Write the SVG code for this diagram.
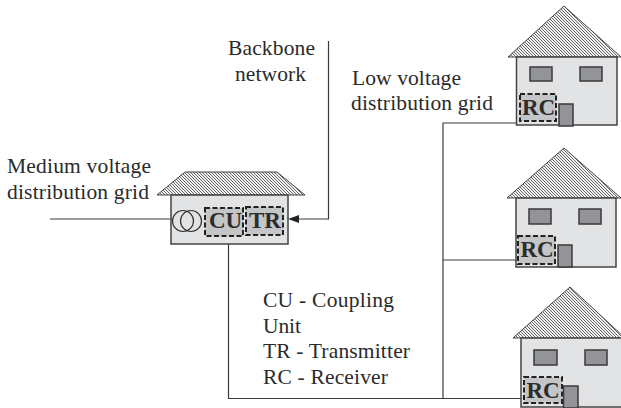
<svg xmlns="http://www.w3.org/2000/svg" width="621" height="408" viewBox="0 0 621 408">
<style>
text{font-family:"Liberation Serif","Times New Roman",serif;fill:#2a2a2a}
.t{font-size:21.500px}
.b{font-size:23px;font-weight:bold;fill:#2c2c2c}
.body{fill:#e2e3e5;stroke:#444;stroke-width:1.5}
.roof{fill:url(#hatch);stroke:#444;stroke-width:1}
.win{fill:#929497;stroke:#3a3a3a;stroke-width:1.5}
.box{fill:#c4c5c7;stroke:#222;stroke-width:2;stroke-dasharray:5 2.5}
.c{fill:none;stroke:#333;stroke-width:1.2}
.ln{fill:none;stroke:#3a3a3a;stroke-width:1.2}
</style>
<defs>
<pattern id="hatch" width="3" height="3" patternUnits="userSpaceOnUse">
<rect width="3" height="3" fill="#f2f2f2"/>
<path d="M-1,-1L4,4M-1,2L1,4M2,-1L4,1" stroke="#444" stroke-width="0.8"/>
</pattern>
</defs>
<g id="connectors">
<path class="ln" d="M50,219H173"/>
<path class="ln" d="M328.500,41V219H299"/>
<path d="M299,215L288,219L299,223Z" fill="#222"/>
<path class="ln" d="M228.500,244V398.500H521"/>
<path class="ln" d="M443,398.500V123H517"/>
<path class="ln" d="M443,260H516"/>
</g>
<g id="house-main">
<polygon class="roof" points="185,172 277,172 305,195 157,195"/>
<rect class="body" x="171" y="195" width="117" height="49"/>
<circle class="c" cx="183" cy="221" r="10.500"/>
<circle class="c" cx="191" cy="221" r="10.500"/>
<rect class="box" x="205" y="208" width="38" height="28"/>
<rect class="box" x="246" y="207" width="37" height="28"/>
<text class="b" x="225.500" y="228" text-anchor="middle">CU</text>
<text class="b" x="265" y="228" text-anchor="middle">TR</text>
</g>
<g id="house-1">
<polygon class="roof" points="564,6 621,57 508,57"/>
<rect class="body" x="516.500" y="57" width="100.500" height="68"/>
<rect class="win" x="530" y="67" width="22" height="14"/>
<rect class="win" x="580" y="67" width="22" height="14"/>
<rect class="box" x="520" y="94" width="36" height="27"/>
<rect class="win" x="559" y="104" width="14" height="22"/>
<text class="b" x="538.500" y="115" text-anchor="middle">RC</text>
</g>
<g id="house-2">
<polygon class="roof" points="564,148 621,198 507,198"/>
<rect class="body" x="516" y="198" width="100" height="69"/>
<rect class="win" x="529" y="209" width="22" height="15"/>
<rect class="win" x="579" y="209" width="22" height="15"/>
<rect class="box" x="518" y="236" width="37" height="28"/>
<rect class="win" x="558" y="245" width="14" height="22"/>
<text class="b" x="537" y="257" text-anchor="middle">RC</text>
</g>
<g id="house-3">
<polygon class="roof" points="570,287 625,338 513,338"/>
<rect class="body" x="521" y="338" width="102" height="69"/>
<rect class="win" x="534" y="350" width="23" height="15"/>
<rect class="win" x="585" y="350" width="22" height="15"/>
<rect class="box" x="524" y="377" width="38" height="26"/>
<rect class="win" x="563.500" y="386" width="14.500" height="22"/>
<text class="b" x="543" y="398" text-anchor="middle">RC</text>
</g>
<g id="labels">
<text class="t" x="228" y="55" textLength="87">Backbone</text>
<text class="t" x="235" y="81" textLength="71">network</text>
<text class="t" x="352" y="85" textLength="109">Low voltage</text>
<text class="t" x="351" y="110" textLength="142">distribution grid</text>
<text class="t" x="7" y="173" textLength="144">Medium voltage</text>
<text class="t" x="7" y="199" textLength="142">distribution grid</text>
<text class="t" x="263" y="307" textLength="131">CU - Coupling</text>
<text class="t" x="263" y="333" textLength="38">Unit</text>
<text class="t" x="263" y="358" textLength="147">TR - Transmitter</text>
<text class="t" x="263" y="384" textLength="125">RC - Receiver</text>
</g>
</svg>
